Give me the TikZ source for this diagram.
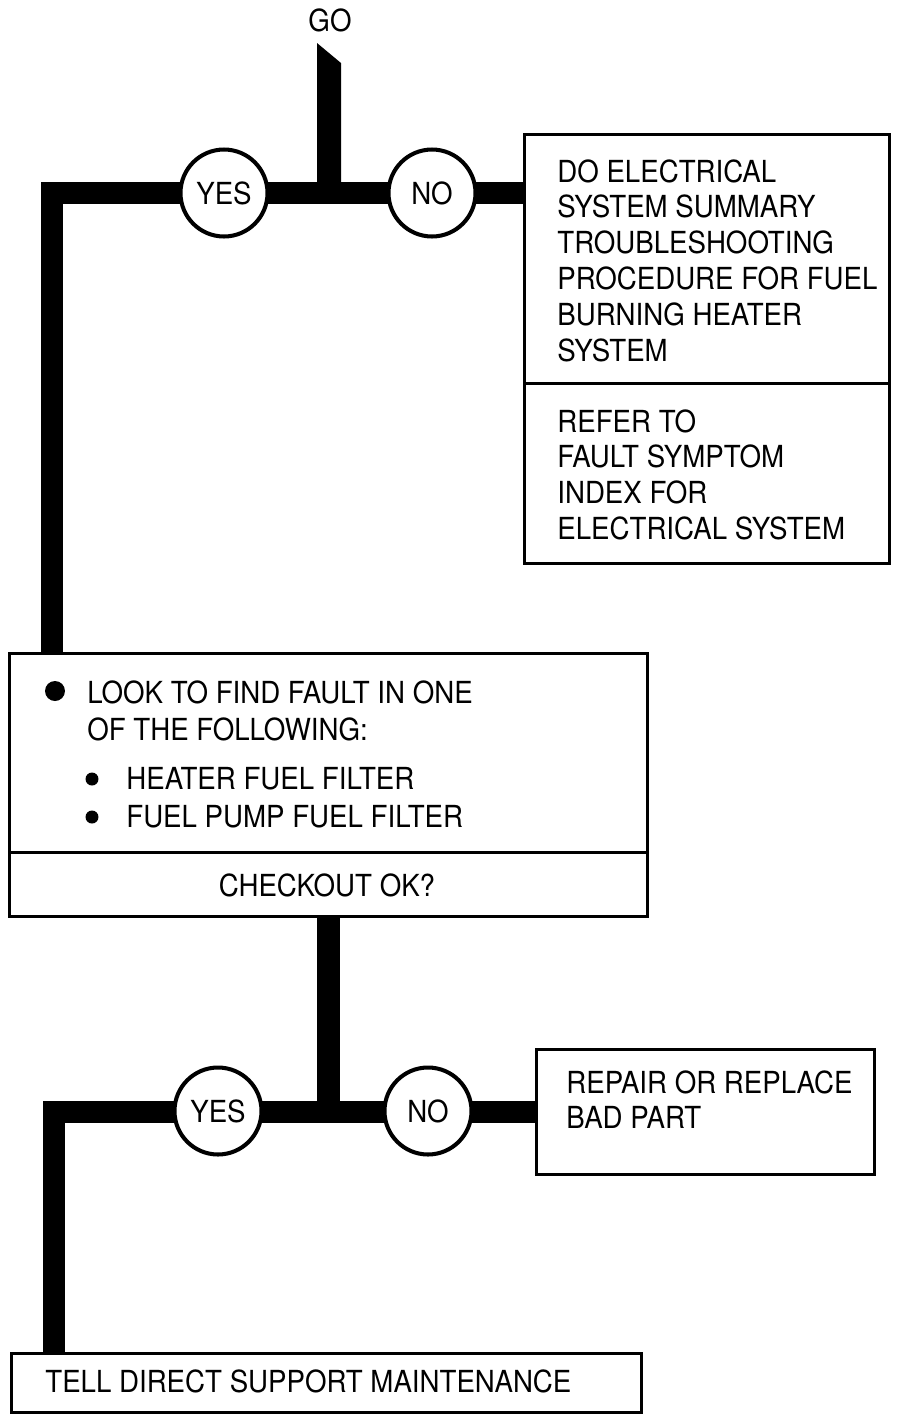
\documentclass[tikz,border=0pt]{standalone}
\usepackage{fontspec}
\setmainfont[FakeStretch=0.91]{TeX Gyre Heros}
\usetikzlibrary{positioning,calc,backgrounds}

\begin{document}
\begin{tikzpicture}[x=0.02cm, y=-0.02cm,
  font=\fontsize{17.3}{20.4}\selectfont,
  wire/.style={line width=13pt, line join=miter},
  box/.style={draw, line width=1.7pt, anchor=north west, inner sep=0pt},
  sep/.style={line width=1.7pt},
  ans/.style={circle, draw, line width=2.3pt, fill=white, minimum size=1.74cm, inner sep=0pt},
  txt/.style={anchor=north west, align=left, inner sep=0pt},
  dot/.style={circle, fill, inner sep=0pt}]
  \useasboundingbox (0,0) rectangle (901,1414);

  % start
  \node (go) at (330,20) {GO};
  \coordinate (j1) at (329,193);
  \coordinate (c1) at (52,193);
  \fill ($(j1)+(-12,-150)$) -- ($(j1)+(12,-130)$) -- ($(j1)+(12,0)$) -- ($(j1)+(-12,0)$) -- cycle;

  % first decision
  \node[ans] (yes1) at (224,193) {YES};
  \node[ans] (no1) at (432,193) {NO};

  % box 1: electrical system
  \node[box, minimum width=7.3cm, minimum height=8.58cm] (elec) at (523,133) {};
  \draw[sep] (elec.west |- 0,383) -- (elec.east |- 0,383);
  \node[txt] (elecA) at (557,159) {DO ELECTRICAL\\SYSTEM SUMMARY\\TROUBLESHOOTING\\PROCEDURE FOR FUEL\\BURNING HEATER\\SYSTEM};
  \node[txt] (elecB) at (557,409) {REFER TO\\FAULT SYMPTOM\\INDEX FOR\\ELECTRICAL SYSTEM};

  % box 2: look for fault
  \node[box, minimum width=12.76cm, minimum height=5.26cm] (look) at (8,652) {};
  \draw[sep] (look.west |- 0,852) -- (look.east |- 0,852);
  \node[dot, minimum size=0.4cm] (bigdot) at (55,691) {};
  \node[txt] (lookA) at (87,680) {LOOK TO FIND FAULT IN ONE\\[1pt]OF THE FOLLOWING:};
  \node[dot, minimum size=0.26cm] (dotA) at (92,779) {};
  \node[dot, minimum size=0.26cm] (dotB) at (92,817) {};
  \node[txt] (lookB) at (126,767) {HEATER FUEL FILTER\\[1pt]FUEL PUMP FUEL FILTER};
  \node (check) at (327,885) {CHECKOUT OK?};

  % second decision
  \coordinate (j2) at (look.south |- 0,1112);
  \coordinate (c2) at (54,1112);
  \node[ans] (yes2) at (218,1111) {YES};
  \node[ans] (no2) at (428,1111) {NO};

  % box 3 and box 4
  \node[box, minimum width=6.76cm, minimum height=2.5cm] (repair) at (535,1048) {};
  \node[txt] (repairT) at (566,1070) {REPAIR OR REPLACE\\BAD PART};
  \node[box, minimum width=12.6cm, minimum height=1.18cm] (tell) at (10,1352) {};
  \node[txt] (tellT) at (45,1369) {TELL DIRECT SUPPORT MAINTENANCE};

  % connectors
  \begin{scope}[on background layer]
    \draw[wire] (elec.west |- j1) -- (c1) -- (c1 |- look.north);
    \draw[wire] (look.south) -- (j2);
    \draw[wire] (repair.west |- j2) -- (c2) -- (c2 |- tell.north);
  \end{scope}
\end{tikzpicture}
\end{document}
